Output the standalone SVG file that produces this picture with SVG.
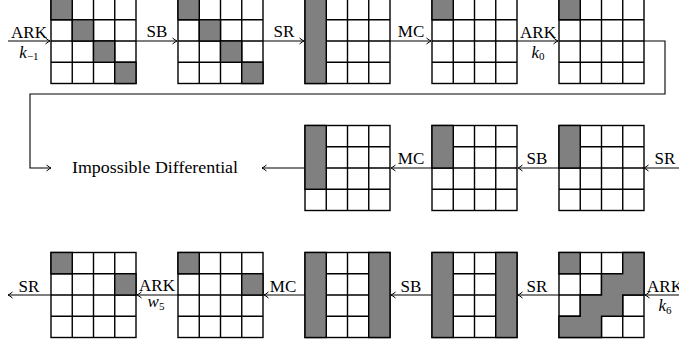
<svg xmlns="http://www.w3.org/2000/svg" xmlns:xlink="http://www.w3.org/1999/xlink" width="679" height="347" viewBox="0 0 679 347">
<style>
.bg{fill:#fff}
.ln{fill:none;stroke:#000;stroke-width:1.4}
.g{fill:#808080;stroke:#000;stroke-width:1.4;stroke-linejoin:miter}
.c{fill:none;stroke:#000;stroke-width:1.1}
text{font-family:"Liberation Serif","Times New Roman",serif;font-size:17px;fill:#000}
.l{text-anchor:middle}
.i{font-style:italic}
</style>
<defs>
<marker id="ah" markerUnits="userSpaceOnUse" markerWidth="12" markerHeight="10" refX="0" refY="0" viewBox="-6 -5 12 10" orient="auto" overflow="visible">
<path d="M-4.5,-3 Q-1.5,-0.6 0,0 Q-1.5,0.6 -4.5,3" fill="none" stroke="#000" stroke-width="1"/>
</marker>
<g id="grid">
<rect class="bg" x="0" y="0" width="85" height="85"/>
<path class="ln" d="M21.25,0V85M42.5,0V85M63.75,0V85M0,21.25H85M0,42.5H85M0,63.75H85"/>
<rect class="ln" x="0" y="0" width="85" height="85"/>
</g>
</defs>
<rect width="679" height="347" fill="#fff"/>

<g id="connectors">
<path class="c" d="M8,41H50" marker-end="url(#ah)"/>
<path class="c" d="M136,41H177" marker-end="url(#ah)"/>
<path class="c" d="M263,41H304" marker-end="url(#ah)"/>
<path class="c" d="M390,41H431" marker-end="url(#ah)"/>
<path class="c" d="M517,41H558" marker-end="url(#ah)"/>
<path class="c" d="M644,41H665V94H30V168H51" marker-end="url(#ah)"/>
<path class="c" d="M305,168H262" marker-end="url(#ah)"/>
<path class="c" d="M432,168H391" marker-end="url(#ah)"/>
<path class="c" d="M559,168H518" marker-end="url(#ah)"/>
<path class="c" d="M679,168H644" marker-end="url(#ah)"/>
<path class="c" d="M51,295H8" marker-end="url(#ah)"/>
<path class="c" d="M178,295H137" marker-end="url(#ah)"/>
<path class="c" d="M305,295H264" marker-end="url(#ah)"/>
<path class="c" d="M432,295H391" marker-end="url(#ah)"/>
<path class="c" d="M559,295H518" marker-end="url(#ah)"/>
<path class="c" d="M679,295H645" marker-end="url(#ah)"/>

<text class="l" x="29" y="37.5">ARK</text>
<text class="l" x="29" y="57.5"><tspan class="i">k</tspan><tspan font-size="11" dy="2.5">−1</tspan></text>
<text class="l" x="157" y="37">SB</text>
<text class="l" x="284" y="37">SR</text>
<text class="l" x="411" y="37">MC</text>
<text class="l" x="538" y="37.5">ARK</text>
<text class="l" x="538" y="57.5"><tspan class="i">k</tspan><tspan font-size="11" dy="2.5">0</tspan></text>

<text class="l" x="155" y="173" textLength="166" lengthAdjust="spacingAndGlyphs">Impossible Differential</text>
<text class="l" x="411" y="163.5">MC</text>
<text class="l" x="537" y="163.5">SB</text>
<text class="l" x="665" y="163.5">SR</text>

<text class="l" x="29" y="291.5">SR</text>
<text class="l" x="157" y="291">ARK</text>
<text class="l" x="156" y="307"><tspan class="i">w</tspan><tspan font-size="11" dy="2.5">5</tspan></text>
<text class="l" x="283" y="291.5">MC</text>
<text class="l" x="411" y="291.5">SB</text>
<text class="l" x="537" y="291.5">SR</text>
<text class="l" x="665" y="291.5">ARK</text>
<text class="l" x="665" y="311"><tspan class="i">k</tspan><tspan font-size="11" dy="2.5">6</tspan></text>
</g>

<g id="s1" transform="translate(51,-1.5)"><use xlink:href="#grid"/>
<rect class="g" x="0" y="0" width="21.25" height="21.25"/><rect class="g" x="21.25" y="21.25" width="21.25" height="21.25"/><rect class="g" x="42.5" y="42.5" width="21.25" height="21.25"/><rect class="g" x="63.75" y="63.75" width="21.25" height="21.25"/></g>
<g id="s2" transform="translate(178,-1.5)"><use xlink:href="#grid"/>
<rect class="g" x="0" y="0" width="21.25" height="21.25"/><rect class="g" x="21.25" y="21.25" width="21.25" height="21.25"/><rect class="g" x="42.5" y="42.5" width="21.25" height="21.25"/><rect class="g" x="63.75" y="63.75" width="21.25" height="21.25"/></g>
<g id="s3" transform="translate(305,-1.5)"><use xlink:href="#grid"/>
<rect class="g" x="0" y="0" width="21.25" height="85"/></g>
<g id="s4" transform="translate(432,-1.5)"><use xlink:href="#grid"/>
<rect class="g" x="0" y="0" width="21.25" height="21.25"/></g>
<g id="s5" transform="translate(559,-1.5)"><use xlink:href="#grid"/>
<rect class="g" x="0" y="0" width="21.25" height="21.25"/></g>

<g id="s6" transform="translate(305,125.5)"><use xlink:href="#grid"/>
<rect class="g" x="0" y="0" width="21.25" height="63.75"/></g>
<g id="s7" transform="translate(432,125.5)"><use xlink:href="#grid"/>
<rect class="g" x="0" y="0" width="21.25" height="42.5"/></g>
<g id="s8" transform="translate(559,125.5)"><use xlink:href="#grid"/>
<rect class="g" x="0" y="0" width="21.25" height="42.5"/></g>

<g id="s9" transform="translate(51,252.5)"><use xlink:href="#grid"/>
<rect class="g" x="0" y="0" width="21.25" height="21.25"/><rect class="g" x="63.75" y="21.25" width="21.25" height="21.25"/></g>
<g id="s10" transform="translate(178,252.5)"><use xlink:href="#grid"/>
<rect class="g" x="0" y="0" width="21.25" height="21.25"/><rect class="g" x="63.75" y="21.25" width="21.25" height="21.25"/></g>
<g id="s11" transform="translate(305,252.5)"><use xlink:href="#grid"/>
<rect class="g" x="0" y="0" width="21.25" height="85"/><rect class="g" x="63.75" y="0" width="21.25" height="85"/></g>
<g id="s12" transform="translate(432,252.5)"><use xlink:href="#grid"/>
<rect class="g" x="0" y="0" width="21.25" height="85"/><rect class="g" x="63.75" y="0" width="21.25" height="85"/></g>
<g id="s13" transform="translate(559,252.5)"><use xlink:href="#grid"/>
<rect class="g" x="0" y="0" width="21.25" height="21.25"/>
<polygon class="g" points="63.75,0 85,0 85,42.5 63.75,42.5 63.75,63.75 42.5,63.75 42.5,85 0,85 0,63.75 21.25,63.75 21.25,42.5 42.5,42.5 42.5,21.25 63.75,21.25"/></g>
</svg>
